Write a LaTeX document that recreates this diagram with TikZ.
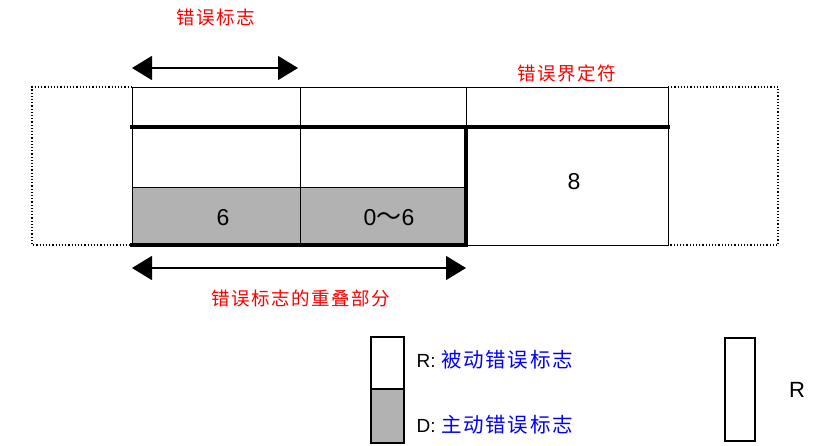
\documentclass[tikz,border=0pt]{standalone}
\usepackage{fontspec}
\setmainfont{Liberation Sans}
\newfontfamily\cjk{Noto Sans CJK SC}[LetterSpace=8]
\usetikzlibrary{arrows.meta}
\begin{document}
\begin{tikzpicture}[x=1pt,y=-1pt,
  cell/.style={draw=black,line width=0.9pt},
  dotbox/.style={draw=black,dotted,line width=1.2pt},
  thick line/.style={line width=3.8pt},
  arr/.style={line width=1.6pt,{Triangle[length=20pt,width=24pt]}-{Triangle[length=20pt,width=24pt]}},
  red label/.style={text=red,font=\cjk\fontsize{18.5}{20}\selectfont},
  num/.style={font=\fontsize{23}{25}\selectfont}]
\useasboundingbox (0,0) rectangle (831,445);
\fill[gray!60] (132,187) rectangle (466,245);
\draw[dotbox] (132,87) -- (32,87) -- (32,245) -- (132,245);
\draw[dotbox] (668,87) -- (778,87) -- (778,245) -- (668,245);
\draw[cell] (132,87) rectangle (668,245);
\draw[cell] (300,87) -- (300,245);
\draw[cell] (466,87) -- (466,127);
\draw[cell] (132,187) -- (466,187);
\draw[thick line] (130,127) -- (670,127);
\draw[thick line] (466,127) -- (466,246.9);
\draw[thick line] (130,245) -- (466,245);
\node[num] (n6) at (223,218) {6};
\node[num] (n06) at (389,218) {0{\cjk\fontsize{25}{25}\selectfont ～}6};
\node[num] (n8) at (574,182) {8};
\coordinate (a1) at (132,68); \coordinate (a2) at (298,68);
\draw[arr] (a1) -- (a2);
\node[red label] (l1) at (216,17) {错误标志};
\node[red label] (l2) at (567,73) {错误界定符};
\coordinate (b1) at (132,268); \coordinate (b2) at (466,268);
\draw[arr] (b1) -- (b2);
\node[red label] (l3) at (301,298) {错误标志的重叠部分};
\draw[line width=1.8pt] (371,337) rectangle (404,389);
\draw[line width=1.8pt,fill=gray!60] (371,389) rectangle (404,443);
\node[anchor=west,font=\fontsize{19}{21}\selectfont] (lr) at (413,360) {R:\hspace{6pt}\textcolor{blue}{\cjk\fontsize{20.5}{21}\selectfont 被动错误标志}};
\node[anchor=west,font=\fontsize{19}{21}\selectfont] (ld) at (413,425) {D:\hspace{6pt}\textcolor{blue}{\cjk\fontsize{20.5}{21}\selectfont 主动错误标志}};
\draw[line width=1.8pt] (725,338) rectangle (755,441);
\node[font=\fontsize{22}{24}\selectfont] (r) at (797,390) {R};
\end{tikzpicture}
\end{document}
